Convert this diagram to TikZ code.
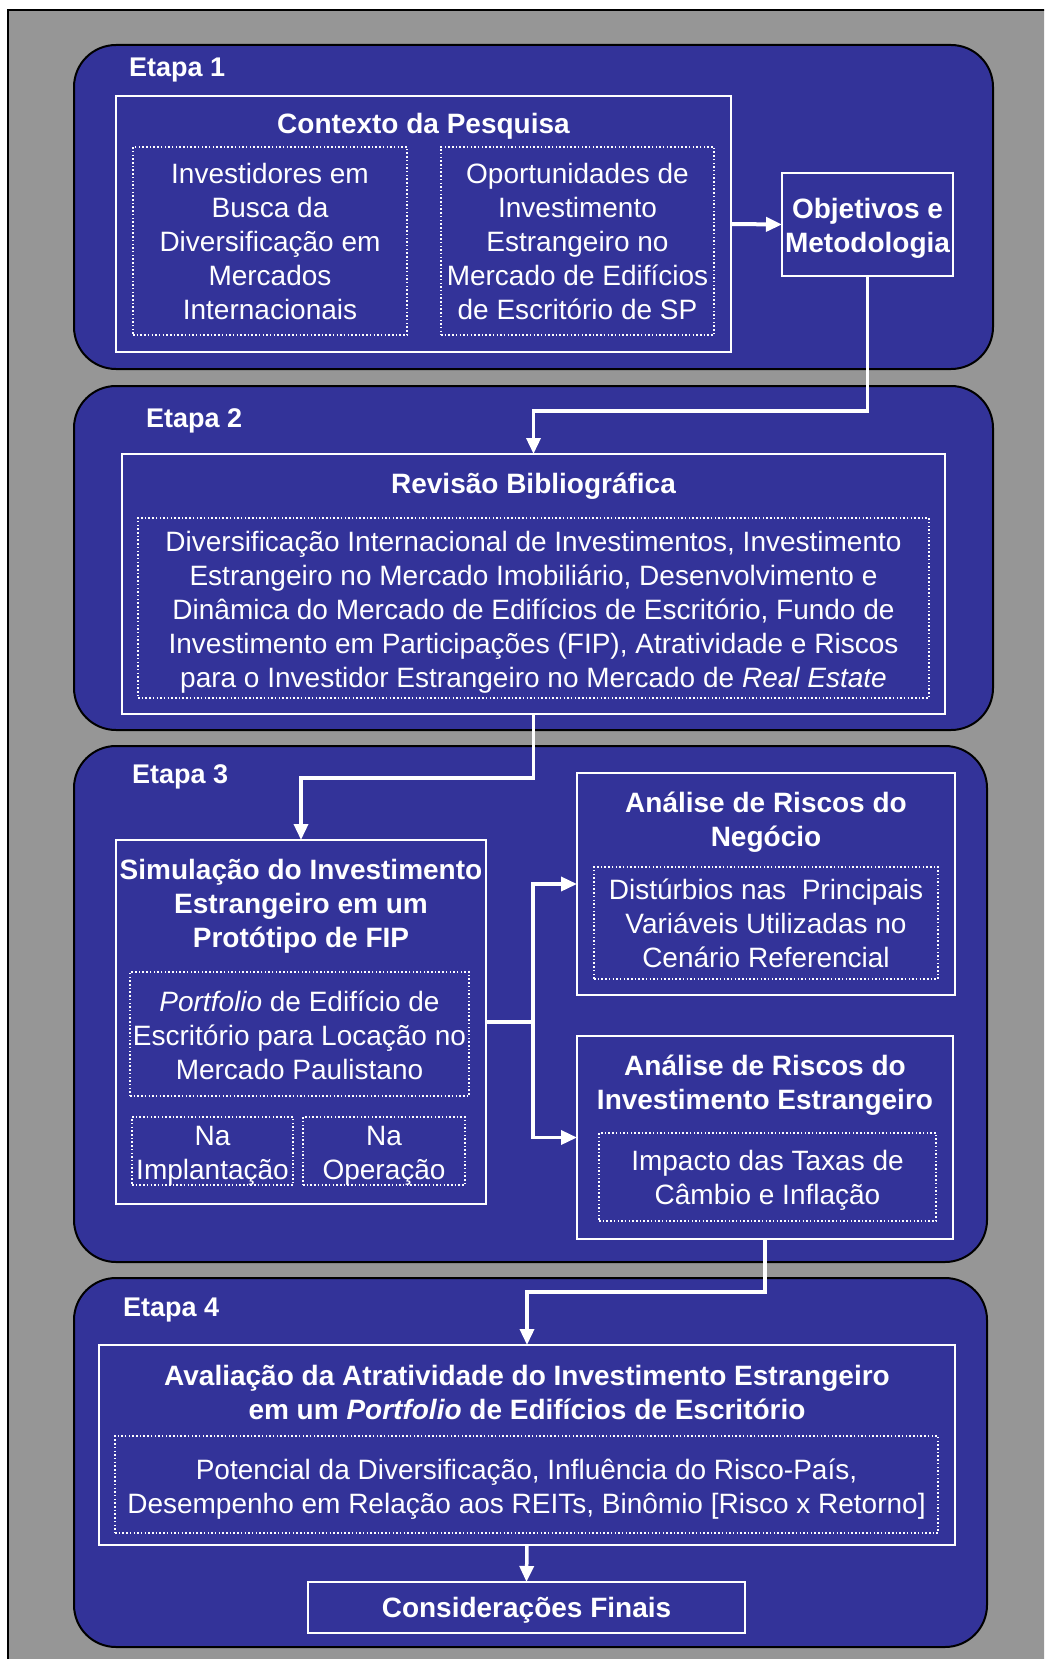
\documentclass[tikz,border=0pt]{standalone}
\usepackage{fontspec}
\setmainfont{Liberation Sans}
\usetikzlibrary{arrows.meta}
\definecolor{bgray}{RGB}{150,150,150}
\definecolor{sblue}{RGB}{51,51,153}
\tikzset{
  stage/.style={draw=black, line width=2pt, fill=sblue, rounded corners=42pt, inner sep=0pt, outer sep=0pt},
  wbox/.style={draw=white, line width=2pt, inner sep=0pt, outer sep=0pt},
  dbox/.style={draw=white, line width=1.5pt, dash pattern=on 1.5pt off 2.2pt, inner sep=0pt, outer sep=0pt},
  txt/.style={text=white, font=\fontsize{28}{34}\selectfont, align=center, inner sep=0pt, anchor=base},
  ttl/.style={txt, font=\fontsize{28}{34}\selectfont\bfseries},
  etapa/.style={text=white, font=\fontsize{27}{32}\selectfont\bfseries, inner sep=0pt, anchor=base west},
  conn/.style={draw=white, line width=3.5pt},
  arr/.style={conn, -{Triangle[length=16pt,width=14pt]}},
}
\newcommand\bx[6]{%
  \pgfmathsetmacro\bxw{#5-#3}\pgfmathsetmacro\bxh{#6-#4}%
  \pgfmathsetmacro\bxx{(#3+#5)/2}\pgfmathsetmacro\bxy{(#4+#6)/2}%
  \node[#1, minimum width=\bxw pt, minimum height=\bxh pt] (#2) at (\bxx,\bxy) {};}
\begin{document}
\begin{tikzpicture}[x=1pt,y=-1pt]
\useasboundingbox (0,0) rectangle (1044,1659);
\clip (0,0) rectangle (1044,1659);
\fill[white] (0,0) rectangle (1044,1659);
\draw[black, line width=2pt, fill=bgray] (8,10) rectangle (1080,1700);

% stage boxes
\bx{stage}{s1}{74}{45}{993}{369}
\bx{stage}{s2}{74}{386}{993}{730}
\bx{stage}{s3}{74}{746}{987}{1262}
\bx{stage}{s4}{74}{1278}{987}{1647}

% (multi-line text nodes are placed by the baseline of their last line)
% ---- Etapa 1
\node[etapa] (e1) at (129,77) {Etapa 1};
\bx{wbox}{ctx}{116}{96}{731}{352}
\node[ttl] (tctx) at (423.5,134) {Contexto da Pesquisa};
\bx{dbox}{d1a}{133}{147}{407}{335}
\bx{dbox}{d1b}{441}{147}{714}{335}
\node[txt] (t1a) at (270,319) {Investidores em\\Busca da\\Diversificação em\\Mercados\\Internacionais};
\node[txt] (t1b) at (577.5,319) {Oportunidades de\\Investimento\\Estrangeiro no\\Mercado de Edifícios\\de Escritório de SP};
\bx{wbox}{obj}{782}{173}{953}{276}
\node[ttl] (tobj) at (867.5,252) {Objetivos e\\Metodologia};

% ---- Etapa 2
\node[etapa] (e2) at (146,427) {Etapa 2};
\bx{wbox}{rev}{122}{454}{945}{714}
\node[ttl] (trev) at (533.5,493) {Revisão Bibliográfica};
\bx{dbox}{d2}{138}{518}{929}{698}
\node[txt] (t2) at (533.5,687) {Diversificação Internacional de Investimentos, Investimento\\Estrangeiro no Mercado Imobiliário, Desenvolvimento e\\Dinâmica do Mercado de Edifícios de Escritório, Fundo de\\Investimento em Participações (FIP), Atratividade e Riscos\\para o Investidor Estrangeiro no Mercado de \textit{Real Estate}};

% ---- Etapa 3
\node[etapa] (e3) at (132,783) {Etapa 3};
\bx{wbox}{sim}{116}{840}{486}{1204}
\node[ttl] (tsim) at (301,947) {Simulação do Investimento\\Estrangeiro em um\\Protótipo de FIP};
\bx{dbox}{d3}{130}{972}{469}{1096}
\node[txt] (t3) at (299.5,1079) {\textit{Portfolio} de Edifício de\\Escritório para Locação no\\Mercado Paulistano};
\bx{dbox}{d3a}{132}{1117}{293}{1185}
\bx{dbox}{d3b}{303}{1117}{465}{1185}
\node[txt] (t3a) at (212.5,1179) {Na\\Implantação};
\node[txt] (t3b) at (384,1179) {Na\\Operação};

\bx{wbox}{an1}{577}{773}{955}{995}
\node[ttl] (tan1) at (766,846) {Análise de Riscos do\\Negócio};
\bx{dbox}{d4}{594}{867}{938}{979}
\node[txt] (t4) at (766,967) {Distúrbios nas\ \ Principais\\Variáveis Utilizadas no\\Cenário Referencial};

\bx{wbox}{an2}{577}{1036}{953}{1239}
\node[ttl] (tan2) at (765,1109) {Análise de Riscos do\\Investimento Estrangeiro};
\bx{dbox}{d5}{599}{1133}{936}{1221}
\node[txt] (t5) at (767.5,1204) {Impacto das Taxas de\\Câmbio e Inflação};

% ---- Etapa 4
\node[etapa] (e4) at (123,1316) {Etapa 4};
\bx{wbox}{ava}{99}{1345}{955}{1545}
\node[ttl] (tava) at (527,1419) {Avaliação da Atratividade do Investimento Estrangeiro\\em um \textit{Portfolio} de Edifícios de Escritório};
\bx{dbox}{d6}{115}{1436}{938}{1533}
\node[txt] (t6) at (526.5,1513) {Potencial da Diversificação, Influência do Risco-País,\\Desempenho em Relação aos REITs, Binômio [Risco x Retorno]};
\bx{wbox}{con}{308}{1582}{745}{1633}
\node[ttl] (tcon) at (526.5,1617) {Considerações Finais};

% ---- connectors
\coordinate (k1) at (533.5,411);
\coordinate (k2) at (301,778);
\coordinate (k3) at (533,1022);
\coordinate (k4) at (527,1292);
\draw[arr, line width=4pt] (ctx.east) -- (obj.west);
\draw[arr] (obj.south) |- (k1) -- (rev.north);
\draw[arr] (rev.south) |- (k2) -- (sim.north);
\draw[conn] (sim.east) -- (k3);
\draw[arr] (k3) |- (an1.west);
\draw[arr] (k3) |- (an2.west);
\draw[arr] (an2.south) |- (k4) -- (ava.north);
\draw[arr] (ava.south) -- (con.north);
\end{tikzpicture}
\end{document}
